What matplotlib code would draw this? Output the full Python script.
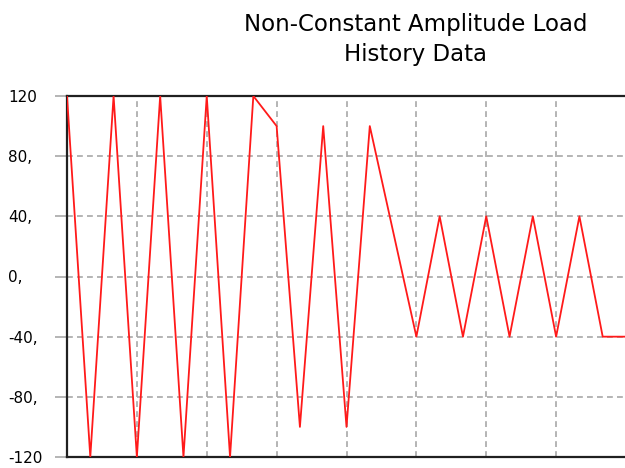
import numpy as np
import matplotlib.pyplot as plt

# load history (one value per reversal step)
steps = list(range(25))
load = [120, -120, 120, -120, 120, -120, 120, -120, 120,
        100, -100, 100, -100, 100, 30, -40, 40, -40, 40,
        -40, 40, -40, 40, -40, -40]
y_ticks = [120, 80, 40, 0, -40, -80, -120]
y_labels = ["120", "80,", "40,", "0,", "-40,", "-80,", "-120"]
x_grid = [3, 6, 9, 12, 15, 18, 21]

fig = plt.figure(figsize=(6.25, 4.68), dpi=100)
ax = fig.add_axes([67 / 625, 1 - 457 / 468, 559 / 625, 361 / 468])

ax.plot(steps, load, color="#ff1a1a", lw=1.3, zorder=3)

ax.set_xlim(0, 24)
ax.set_ylim(-120, 120)
ax.set_yticks(y_ticks)
ax.set_yticklabels(y_labels)
ax.set_xticks(x_grid)
ax.tick_params(axis="x", length=0, labelbottom=False)
ax.tick_params(axis="y", length=9, width=1.2, color="#a8a8a8", pad=33.5,
               labelsize=11)
for lab in ax.get_yticklabels():
    lab.set_horizontalalignment("left")

ax.grid(True, color="#a8a8a8", lw=1.2, ls=(0, (3.5, 2.5)))
ax.set_axisbelow(True)

for s in ["top", "bottom", "left"]:
    ax.spines[s].set_linewidth(1.6)
    ax.spines[s].set_color("#202020")
ax.spines["right"].set_visible(False)

fig.text(416 / 625, 1 - 13 / 468, "Non-Constant Amplitude Load\nHistory Data",
         ha="center", va="top", fontsize=16.5, linespacing=1.4)

fig.savefig("out.png", dpi=100)
